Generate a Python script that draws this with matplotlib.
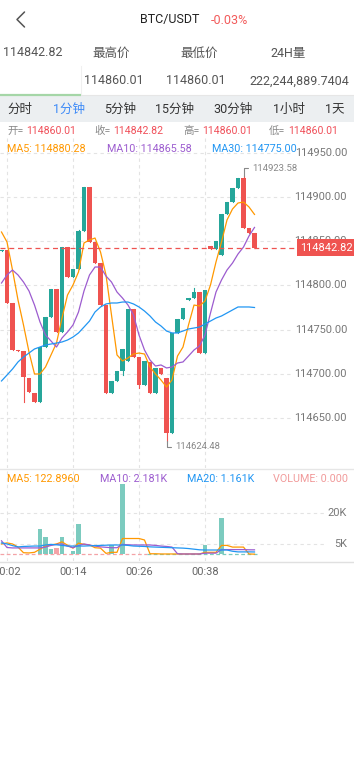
import matplotlib
matplotlib.use('Agg')
import matplotlib.pyplot as plt
from matplotlib.patches import Rectangle

W, H = 354, 767
plt.rcParams['font.family'] = ['Roboto', 'Noto Sans CJK SC', 'DejaVu Sans']

# ---------------- data ----------------
time_labels = ['00:02', '00:14', '00:26', '00:38']
time_index = [1, 13, 25, 37]

opens = [114838.9, 114840.0, 114780.1, 114726.9, 114726.0, 114695.2, 114678.3, 114668.1,
         114730.3, 114764.3, 114795.9, 114747.3, 114843.4, 114809.5, 114818.6, 114861.5,
         114911.3, 114849.1, 114825.3, 114777.8, 114678.3, 114691.9, 114703.2, 114714.5,
         114773.3, 114719.0, 114687.3, 114713.3, 114678.3, 114706.6, 114695.2, 114633.0,
         114746.2, 114762.0, 114783.5, 114785.7, 114792.5, 114723.5, 114844.6, 114841.2,
         114834.4, 114880.8, 114894.0, 114910.2, 114922.0, 114864.9, 114859.3]
closes = [114840.0, 114780.1, 114726.9, 114726.0, 114696.4, 114679.4, 114668.1, 114730.3,
          114764.3, 114795.9, 114747.3, 114843.4, 114809.5, 114818.6, 114861.5, 114911.3,
          114849.1, 114825.3, 114777.8, 114678.3, 114691.9, 114703.2, 114728.1, 114773.3,
          114719.0, 114687.3, 114714.5, 114678.3, 114706.6, 114699.8, 114633.0, 114746.2,
          114762.0, 114774.4, 114785.7, 114792.5, 114723.5, 114794.8, 114841.2, 114850.2,
          114880.8, 114894.0, 114910.2, 114922.0, 114864.9, 114859.3, 114842.82]
highs = [114840.0, 114840.0, 114780.1, 114726.9, 114726.0, 114695.2, 114678.3, 114730.3,
         114764.3, 114795.9, 114795.9, 114843.4, 114843.4, 114818.6, 114862.7, 114911.3,
         114911.3, 114849.1, 114825.3, 114777.8, 114691.9, 114703.2, 114728.1, 114773.3,
         114773.3, 114719.0, 114714.5, 114713.3, 114706.6, 114706.6, 114695.2, 114746.2,
         114762.0, 114774.4, 114785.7, 114797.1, 114792.5, 114794.8, 114844.6, 114850.2,
         114880.8, 114894.0, 114910.2, 114922.0, 114923.58, 114864.9, 114859.3]
lows = [114838.9, 114780.1, 114726.9, 114726.0, 114668.1, 114679.4, 114668.1, 114668.1,
        114730.3, 114764.3, 114747.3, 114747.3, 114809.5, 114809.5, 114818.6, 114861.5,
        114849.1, 114825.3, 114777.8, 114678.3, 114678.3, 114691.9, 114698.6, 114714.5,
        114719.0, 114683.9, 114687.3, 114678.3, 114678.3, 114699.8, 114624.48, 114633.0,
        114746.2, 114762.0, 114783.5, 114785.7, 114723.5, 114723.5, 114841.2, 114841.2,
        114834.4, 114880.8, 114894.0, 114910.2, 114864.9, 114859.3, 114842.82]

ma5 = [114860.4, 114849.1, 114817.4, 114783.5, 114755.2, 114724.7, 114699.8, 114699.8,
       114707.7, 114721.3, 114734.8, 114763.1, 114789.1, 114800.5, 114815.2, 114848.0,
       114851.4, 114853.6, 114837.8, 114811.8, 114766.5, 114721.3, 114714.5, 114717.9,
       114722.4, 114723.5, 114722.4, 114707.7, 114699.8, 114693.0, 114685.1, 114693.0,
       114720.1, 114730.3, 114755.2, 114777.8, 114776.7, 114782.4, 114800.5, 114826.5,
       114849.1, 114874.0, 114886.4, 114893.2, 114894.3, 114888.7, 114880.28]
ma10 = [114802.7, 114811.8, 114817.4, 114811.8, 114803.8, 114793.7, 114777.8, 114758.6,
        114743.9, 114737.1, 114730.3, 114740.5, 114747.3, 114755.2, 114769.9, 114793.7,
        114811.8, 114820.8, 114820.8, 114810.6, 114803.8, 114792.5, 114785.7, 114777.8,
        114766.5, 114743.9, 114726.9, 114715.6, 114708.8, 114710.0, 114706.6, 114707.7,
        114712.2, 114713.4, 114720.1, 114726.9, 114731.5, 114743.9, 114768.8, 114792.5,
        114806.1, 114817.4, 114825.3, 114835.5, 114843.4, 114855.9, 114865.58]
ma30 = [114691.9, 114698.6, 114705.4, 114713.4, 114719.0, 114723.5, 114728.1, 114730.3,
        114732.6, 114733.7, 114734.8, 114736.0, 114738.2, 114741.6, 114746.2, 114752.9,
        114759.7, 114769.9, 114775.6, 114779.0, 114780.1, 114780.1, 114781.2, 114781.2,
        114779.0, 114775.6, 114771.0, 114765.4, 114758.6, 114754.1, 114748.4, 114746.2,
        114746.2, 114748.4, 114750.7, 114751.8, 114752.9, 114756.3, 114759.7, 114763.1,
        114765.4, 114768.8, 114772.2, 114775.6, 114775.6, 114775.6, 114775.0]

# volume in thousands
volumes = [0, 0, 0, 0, 0, 0, 0, 12.0, 8.1, 2.5, 3.0, 8.1, 0, 1.5, 14.4, 0, 0, 0, 0, 0,
           4.3, 0, 33.5, 0, 0, 0, 0, 0, 0, 0, 0, 0, 0, 0, 0, 0, 0, 4.3, 0, 0, 17.2,
           0, 0, 0, 0, 0, 0]
vol_ma5 = [5.0, 5.5, 5.0, 3.5, 0.8, 0.7, 1.0, 2.5, 4.0, 4.5, 5.0, 6.0, 4.4, 3.0, 5.4, 4.8,
           4.5, 3.2, 3.0, 0.5, 1.0, 1.0, 7.6, 7.6, 7.6, 7.6, 6.9, 0.3, 0.3, 0.2, 0.2, 0.2,
           0.2, 0.2, 0.2, 0.2, 0.2, 1.0, 1.0, 1.0, 4.3, 4.3, 3.5, 3.5, 3.5, 0.2, 0.12]
vol_ma10 = [6.5, 3.3, 3.1, 3.1, 3.1, 3.1, 3.1, 3.1, 3.5, 4.3, 4.8, 5.0, 4.0, 3.2, 4.2, 5.0,
            4.5, 4.0, 3.6, 3.4, 3.2, 3.2, 4.8, 4.6, 4.5, 4.5, 4.5, 4.5, 4.3, 4.0, 3.8, 3.5,
            0.3, 0.2, 0.2, 0.2, 0.2, 0.6, 0.6, 0.6, 2.3, 2.3, 2.3, 2.3, 2.3, 2.2, 2.18]
vol_ma20 = [5.5, 5.0, 4.2, 3.6, 3.8, 3.9, 4.0, 4.0, 4.5, 4.8, 4.6, 4.3, 4.0, 4.0, 4.0, 4.0,
            4.1, 4.2, 4.3, 4.4, 4.5, 4.5, 4.5, 4.3, 4.0, 3.9, 3.8, 3.6, 3.5, 3.4, 3.3, 3.2,
            3.1, 3.0, 2.8, 2.5, 2.2, 2.1, 2.1, 2.1, 2.1, 2.1, 1.5, 1.2, 1.2, 1.2, 1.16]

price_ticks = [114650, 114700, 114750, 114800, 114850, 114900, 114950]
vol_ticks = [5, 20]
vol_tick_labels = ['5K', '20K']
last_price = 114842.82
max_price = 114923.58
min_price = 114624.48

tabs = ['分时', '1分钟', '5分钟', '15分钟', '30分钟', '1小时', '1天']
tab_x = [20, 69, 120, 175, 233, 289, 335]
ohlc_labels = ['开=', '收=', '高=', '低=']
ohlc_values = ['114860.01', '114842.82', '114860.01', '114860.01']

UP = '#26a69a'
DOWN = '#ef5350'
C_MA5 = '#ff9800'
C_MA10 = '#9c5ccf'
C_MA30 = '#2196f3'
GRID = '#e3e3e3'
LBL = '#777777'

# pixel <-> data mapping of the main price panel
Y_REF, P_REF, P_PER_PX = 197, 114900, 1.1312
# pixel mapping of the volume panel (thousands)
V_BASE, V_PX_PER_K = 554.4, 2.09


def frac(x0, y0, x1, y1):
    return [x0 / W, 1 - y1 / H, (x1 - x0) / W, (y1 - y0) / H]


def pt(px):
    return px * 72 / 100


def price_to_px(p):
    return Y_REF + (P_REF - p) / P_PER_PX


fig = plt.figure(figsize=(W / 100, H / 100), dpi=100)
fig.patch.set_facecolor('white')

bg = fig.add_axes([0, 0, 1, 1], zorder=0)
bg.set_xlim(0, W)
bg.set_ylim(H, 0)
bg.axis('off')

top = fig.add_axes([0, 0, 1, 1], zorder=5)
top.set_xlim(0, W)
top.set_ylim(H, 0)
top.axis('off')
top.patch.set_alpha(0)

# header
top.plot([24.5, 17, 24.5], [12, 19.5, 27], color='#555555', lw=1.1, solid_capstyle='round')
top.text(170, 20, 'BTC/USDT', ha='center', va='center', fontsize=pt(12.5), color='#222222')
top.text(211, 20, '-0.03%', ha='left', va='center', fontsize=pt(12.5), color='#f25a5a')

top.text(3, 53, '114842.82', ha='left', va='center', fontsize=pt(12.5), color='#555555')
for s, x in zip(['最高价', '最低价', '24H量'], [111, 199, 288]):
    top.text(x, 53, s, ha='center', va='center', fontsize=pt(12.5), color='#555555')
for s, x in zip(['114860.01', '114860.01', '222,244,889.7404'], [114, 196, 299]):
    top.text(x, 81, s, ha='center', va='center', fontsize=pt(12.5), color='#555555')
bg.plot([81, 81], [66, 94], color='#f0f0f0', lw=0.8)
bg.plot([0, 81], [94.5, 94.5], color='#a5d6a7', lw=1.6, solid_capstyle='butt')
bg.plot([81, W], [95, 95], color='#e6e6e6', lw=0.8)

# tab bar
bg.add_patch(Rectangle((0, 96), W, 26, color='#eceff1', lw=0))
for s, x in zip(tabs, tab_x):
    top.text(x, 109.5, s, ha='center', va='center', fontsize=pt(12.5),
             color='#3d8af7' if s == '1分钟' else '#333333')

# OHLC row
for lab, val, x0, x1 in zip(ohlc_labels, ohlc_values, [7, 94, 183, 269], [26, 113, 202, 288]):
    top.text(x0, 131, lab, ha='left', va='center', fontsize=pt(10.5), color='#888888')
    top.text(x1, 131, val, ha='left', va='center', fontsize=pt(10.5), color='#f0505a')

# MA row
top.text(7, 149, 'MA5: %.2f' % ma5[-1], ha='left', va='center', fontsize=pt(10.8), color=C_MA5)
top.text(107, 149, 'MA10: %.2f' % ma10[-1], ha='left', va='center', fontsize=pt(10.8), color=C_MA10)
top.text(212, 149, 'MA30: %.2f' % ma30[-1], ha='left', va='center', fontsize=pt(10.8), color=C_MA30)

# ---------------- main candle chart ----------------
n = len(opens)
idx = list(range(n))
ax = fig.add_axes(frac(0, 138, W, 468), zorder=2)
ax.patch.set_alpha(0)
xl0 = (0 - 1.5) / 5.5
xl1 = (W - 1.5) / 5.5
ax.set_xlim(xl0, xl1)
p_top = P_REF + (Y_REF - 138) * P_PER_PX
p_bot = P_REF - (468 - Y_REF) * P_PER_PX
ax.set_ylim(p_bot, p_top)
for s in ax.spines.values():
    s.set_visible(False)
ax.set_xticks([])
ax.set_yticks([])

x_lbl_start = (293 - 1.5) / 5.5
for p in price_ticks:
    ax.plot([xl0, x_lbl_start], [p, p], color=GRID, lw=0.8, ls=(0, (3, 3)), zorder=0)
for i in time_index:
    ax.plot([i, i], [p_bot, p_top], color=GRID, lw=0.8, ls=(0, (3, 3)), zorder=0)

for i in idx:
    o, c, h, l = opens[i], closes[i], highs[i], lows[i]
    col = UP if c >= o else DOWN
    ax.plot([i, i], [l, h], color=col, lw=0.8, zorder=2)
    lo, hi = min(o, c), max(o, c)
    if hi - lo < 1.2:
        hi = lo + 1.2
    ax.bar(i, hi - lo, bottom=lo, width=0.75, color=col, lw=0, zorder=3)

ax.plot(idx, ma5, color=C_MA5, lw=0.9, zorder=4)
ax.plot(idx, ma10, color=C_MA10, lw=0.9, zorder=4)
ax.plot(idx, ma30, color=C_MA30, lw=0.9, zorder=4)

# last price line
x_badge = (297 - 1.5) / 5.5
ax.plot([xl0, x_badge], [last_price, last_price], color=DOWN, lw=0.9, ls=(0, (4, 3)), zorder=5)

# max / min annotations
i_max = highs.index(max_price)
i_min = lows.index(min_price)
ax.annotate('%.2f' % max_price, xy=(i_max, max_price), xytext=(9, 8), textcoords='offset pixels',
            ha='left', va='center', fontsize=pt(9.5), color='#888888',
            arrowprops=dict(arrowstyle='-', color='#888888', lw=0.8, shrinkA=1, shrinkB=0,
                            connectionstyle='angle,angleA=0,angleB=90'), zorder=6)
ax.annotate('%.2f' % min_price, xy=(i_min, min_price), xytext=(9, -6), textcoords='offset pixels',
            ha='left', va='center', fontsize=pt(9.5), color='#888888',
            arrowprops=dict(arrowstyle='-', color='#888888', lw=0.8, shrinkA=1, shrinkB=0,
                            connectionstyle='angle,angleA=0,angleB=90'), zorder=6)

# price axis labels (drawn inside the chart on the right)
for p in price_ticks:
    top.text(347, price_to_px(p), '%.2f' % p, ha='right', va='center', fontsize=pt(11), color=LBL)

# last price badge
ypix_last = price_to_px(last_price)
top.add_patch(Rectangle((297, ypix_last - 8.5), W - 297, 17, color='#ef5350', lw=0, zorder=7))
top.text(326, ypix_last, '%.2f' % last_price, ha='center', va='center', fontsize=pt(11),
         color='white', zorder=8)

# separator
bg.plot([0, W], [468.5, 468.5], color='#e6e6e6', lw=1)

# ---------------- volume chart ----------------
av = fig.add_axes(frac(0, 469, W, 561), zorder=2)
av.patch.set_alpha(0)
av.set_xlim(xl0, xl1)
v_top = (V_BASE - 469) / V_PX_PER_K
v_bot = (V_BASE - 561) / V_PX_PER_K
av.set_ylim(v_bot, v_top)
for s in av.spines.values():
    s.set_visible(False)
av.set_xticks([])
av.set_yticks([])
x_vl = (325 - 1.5) / 5.5
for v in vol_ticks:
    av.plot([xl0, x_vl], [v, v], color=GRID, lw=0.8, ls=(0, (3, 3)), zorder=0)
for i in time_index:
    av.plot([i, i], [v_bot, v_top], color=GRID, lw=0.8, ls=(0, (3, 3)), zorder=0)

for i in idx:
    if volumes[i] > 0:
        col = '#7ccbbf' if closes[i] >= opens[i] else '#f4a3a7'
        av.bar(i, volumes[i], width=0.75, color=col, lw=0, zorder=2)
split = 26.45
av.plot([xl0, split], [0, 0], color='#f4a3a7', lw=0.9, ls=(0, (3, 2)), zorder=1)
av.plot([split, n - 0.5], [0, 0], color='#7ccbbf', lw=0.9, ls=(0, (3, 2)), zorder=1)

av.plot(idx, vol_ma5, color=C_MA5, lw=0.9, zorder=3)
av.plot(idx, vol_ma10, color=C_MA10, lw=0.9, zorder=3)
av.plot(idx, vol_ma20, color=C_MA30, lw=0.9, zorder=3)

for v, s in zip(vol_ticks, vol_tick_labels):
    top.text(347, V_BASE - v * V_PX_PER_K, s, ha='right', va='center', fontsize=pt(11), color=LBL)

top.text(7, 479, 'MA5: 122.8960', ha='left', va='center', fontsize=pt(10.8), color=C_MA5)
top.text(100, 479, 'MA10: 2.181K', ha='left', va='center', fontsize=pt(10.8), color=C_MA10)
top.text(187, 479, 'MA20: 1.161K', ha='left', va='center', fontsize=pt(10.8), color=C_MA30)
top.text(273, 479, 'VOLUME: 0.000', ha='left', va='center', fontsize=pt(10.8), color='#f19a9a')

# bottom axis
bg.plot([0, W], [561.5, 561.5], color='#e0e0e0', lw=1)
for s, i in zip(time_labels, time_index):
    top.text(1.5 + 5.5 * i, 572, s, ha='center', va='center', fontsize=pt(11), color='#666666')

fig.savefig('out.png', dpi=100, facecolor='white')
